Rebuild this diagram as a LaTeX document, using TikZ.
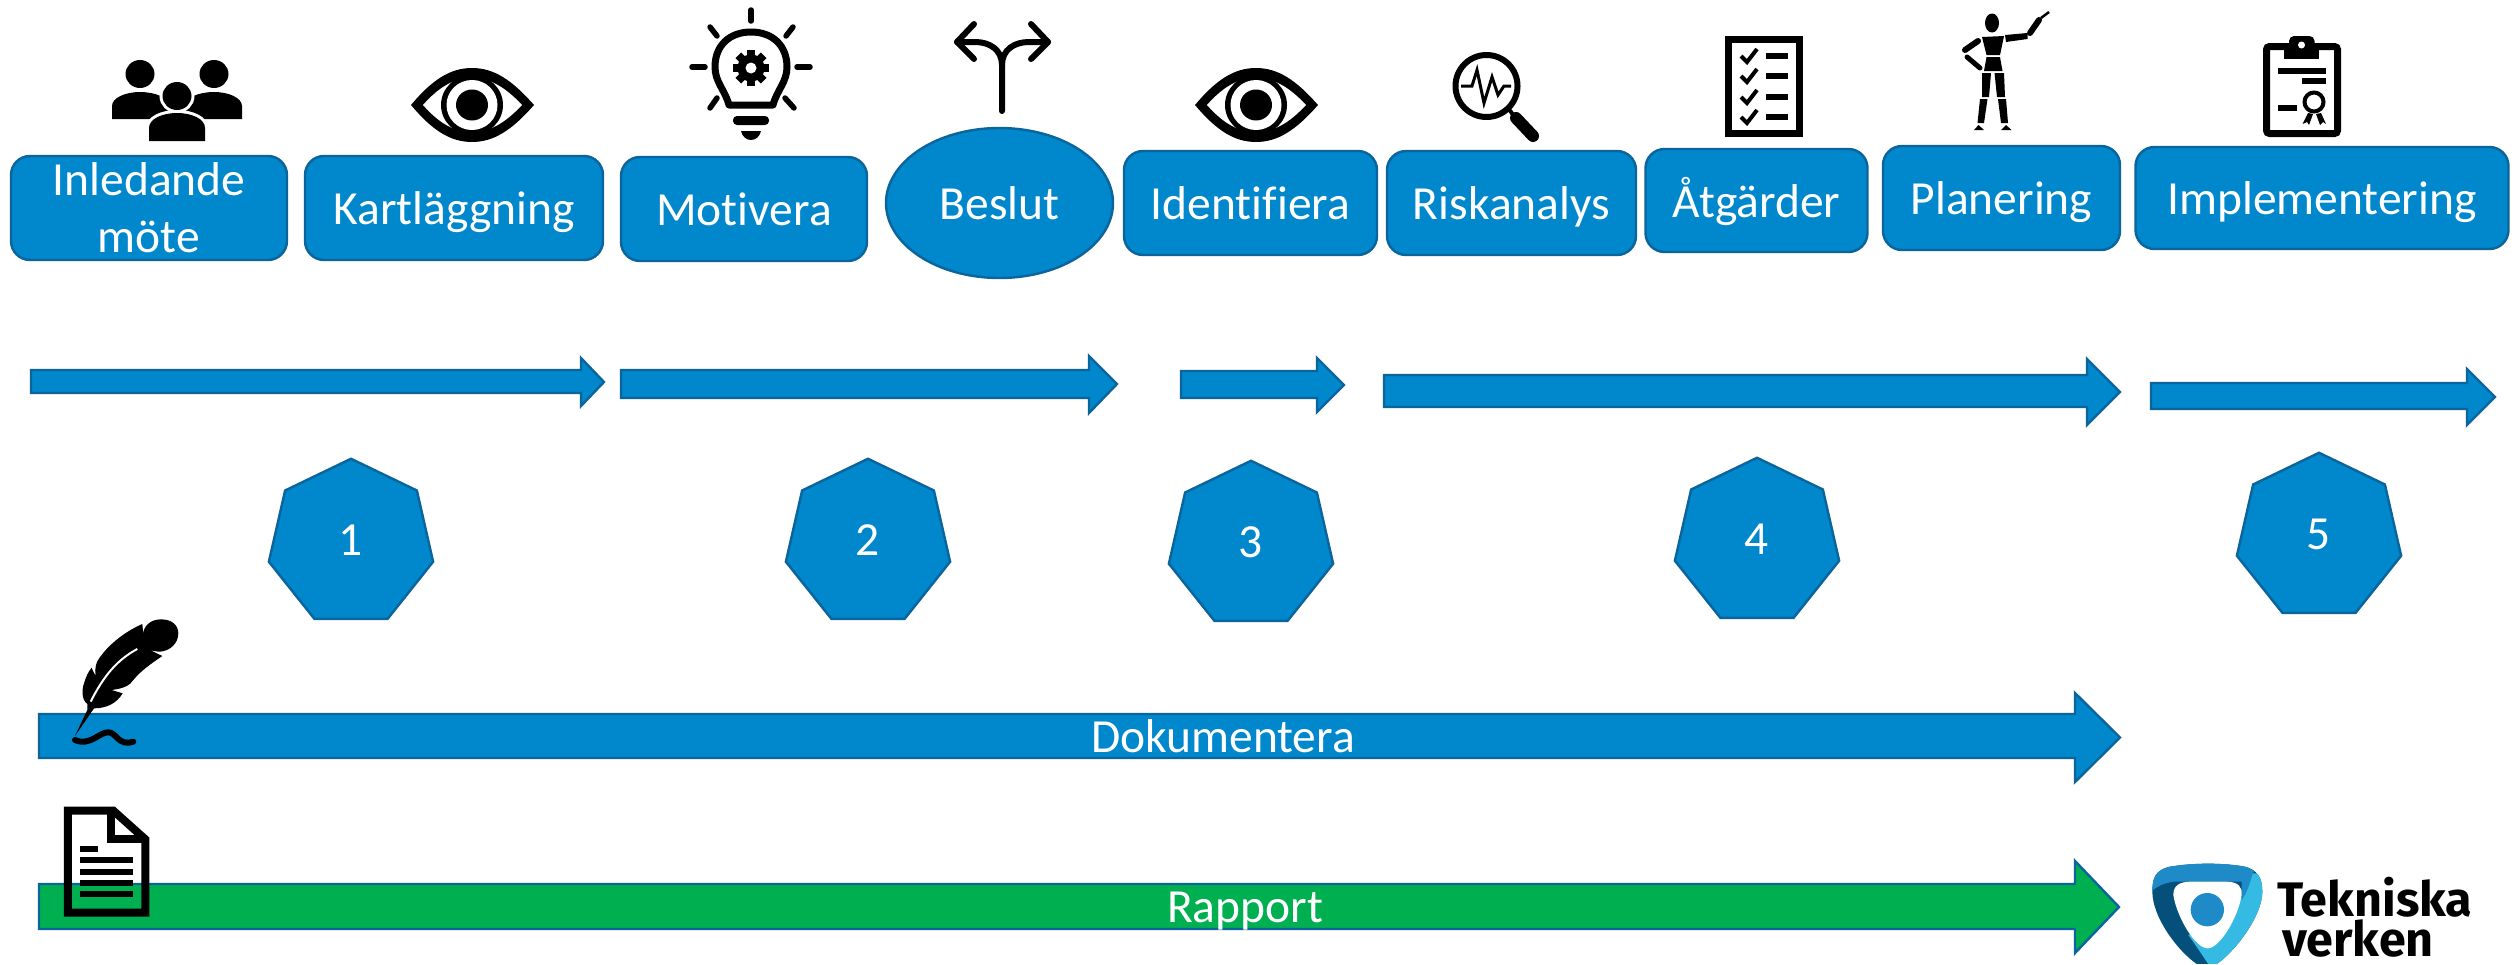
\documentclass[tikz,border=0pt]{standalone}
\usepackage{fontspec}
\setmainfont{Carlito}[Ligatures=CommonOff]
\newfontfamily\logofont{Fira Sans}
\usetikzlibrary{shapes.geometric}
\definecolor{tvblue}{HTML}{0087CC}
\definecolor{tvedge}{HTML}{0B649B}
\definecolor{tvgreen}{HTML}{00B050}
\definecolor{logotop}{HTML}{1E8AC8}
\definecolor{logodark}{HTML}{04507A}
\definecolor{logocyan}{HTML}{35BBE3}
\tikzset{
  x=1pt,y=-1pt,
  shapebase/.style={fill=tvblue,draw=tvedge,line width=2.4pt,text=white,inner sep=0pt,outer sep=0pt,
    font=\fontsize{47.5}{57}\selectfont,align=center},
  flowbox/.style={shapebase,rectangle,rounded corners=19pt,text height=38pt,text depth=5pt},
  emptybox/.style={shapebase,rectangle,rounded corners=19pt},
  decisionshape/.style={shapebase,ellipse,text height=38pt,text depth=5pt},
  heptagon/.style={shapebase,regular polygon,regular polygon sides=7,minimum size=168.5pt,text height=24pt,text depth=0pt},
  blockarrow/.style={fill=tvblue,draw=tvedge,line width=2.4pt,line join=miter},
  greenarrow/.style={blockarrow,fill=tvgreen},
  barlabel/.style={text=white,inner sep=0pt,font=\fontsize{47.5}{57}\selectfont,align=center},
  iconline/.style={draw=black,line width=7pt,line cap=round,line join=round},
  logotext/.style={anchor=base west,inner sep=0pt,text=black,font=\logofont\bfseries\fontsize{48.5}{48}\selectfont},
  eyepic/.pic={
    \fill[black] (-61,0) .. controls (-40,-25) and (-22,-37) .. (0,-37) .. controls (22,-37) and (40,-25) .. (62,0)
       .. controls (40,25) and (22,37) .. (0,37) .. controls (-22,37) and (-40,25) .. (-61,0) -- cycle;
    \fill[white] (-49,0) .. controls (-33,-18) and (-18,-27) .. (0,-27) .. controls (18,-27) and (33,-18) .. (50,0)
       .. controls (33,18) and (18,27) .. (0,27) .. controls (-18,27) and (-33,18) .. (-49,0) -- cycle;
    \fill[black] (0,0) circle[x radius=31,y radius=30];
    \fill[white] (0,0) circle[x radius=25.5,y radius=25];
    \fill[black] (0,0) circle[x radius=16,y radius=15.5];
  },
}
\begin{document}
\begin{tikzpicture}
\useasboundingbox (0,0) rectangle (2516,964);
% process boxes
\node[emptybox,minimum width=276pt,minimum height=104pt] (inledande) at (149,208) {};
\node[barlabel] (inledandetext) at (149,208) {Inledande\\möte};
\node[flowbox,minimum width=298pt,minimum height=104pt] (kart) at (454,208) {Kartläggning};
\node[flowbox,minimum width=246pt,minimum height=104pt] (motivera) at (744,209) {Motivera};
\node[decisionshape,minimum width=227pt,minimum height=150pt] (beslut) at (999.5,203) {Beslut};
\node[flowbox,minimum width=253pt,minimum height=104pt] (identifiera) at (1250.5,203) {Identifiera};
\node[flowbox,minimum width=249pt,minimum height=104pt] (riskanalys) at (1511.5,203) {Riskanalys};
\node[flowbox,minimum width=222pt,minimum height=103pt] (atgarder) at (1756.5,200.5) {Åtgärder};
\node[flowbox,minimum width=237pt,minimum height=104pt] (planering) at (2001.5,198) {Planering};
\node[flowbox,minimum width=373pt,minimum height=102pt] (implementering) at (2322,198) {Implementering};
% phase arrows
\draw[blockarrow] (31,370) -- (581,370) -- (581,358) -- (604,382) -- (581,406) -- (581,393) -- (31,393) -- cycle;
\draw[blockarrow] (621,370) -- (1089,370) -- (1089,356) -- (1117,384) -- (1089,413) -- (1089,398) -- (621,398) -- cycle;
\draw[blockarrow] (1181,371) -- (1317,371) -- (1317,358) -- (1344,385) -- (1317,412) -- (1317,398) -- (1181,398) -- cycle;
\draw[blockarrow] (1384,375) -- (2087,375) -- (2087,359) -- (2120,392) -- (2087,425) -- (2087,407) -- (1384,407) -- cycle;
\draw[blockarrow] (2151,383) -- (2467,383) -- (2467,369) -- (2495,397) -- (2467,425) -- (2467,409) -- (2151,409) -- cycle;
% heptagons
\node[heptagon] (h1) at (351,543) {1};
\node[heptagon] (h2) at (868,543) {2};
\node[heptagon] (h3) at (1251,545) {3};
\node[heptagon] (h4) at (1757,542) {4};
\node[heptagon] (h5) at (2319,537) {5};
% long arrows
\draw[blockarrow] (39,714) -- (2075,714) -- (2075,693) -- (2120,737.5) -- (2075,782) -- (2075,758) -- (39,758) -- cycle;
\node[barlabel] (dok) at (1223,736) {Dokumentera};
\draw[greenarrow] (39,884) -- (2075,884) -- (2075,861) -- (2119,907) -- (2075,953) -- (2075,929) -- (39,929) -- cycle;
\node[barlabel] (rapport) at (1245,911) {Rapport};
% people icon
\fill[black] (112,119) -- (112,106) .. controls (112,98) and (125,92) .. (140,92) .. controls (155,92) and (170,98) .. (170,106) -- (170,119) -- cycle;
\fill[black] (184,119) -- (184,106) .. controls (184,98) and (199,92) .. (214,92) .. controls (229,92) and (242,98) .. (242,106) -- (242,119) -- cycle;
\fill[black] (140,74) circle[x radius=14.5,y radius=14];
\fill[black] (214,74) circle[x radius=14.5,y radius=14];
\fill[black,preaction={draw=white,line width=6pt}] (177,96) circle[x radius=14.5,y radius=14];
\fill[black,preaction={draw=white,line width=6pt}] (149,141) -- (149,128) .. controls (149,119) and (162,113) .. (177,113) .. controls (192,113) and (205,119) .. (205,128) -- (205,141) -- cycle;
% eyes
\pic at (472,105) {eyepic};
\pic at (1256,105) {eyepic};
% bulb
\draw[iconline] (729,105) .. controls (725,90) and (715,82) .. (715,67) .. controls (715,45) and (730,32) .. (751,32) .. controls (772,32) and (787,45) .. (787,67) .. controls (787,82) and (777,90) .. (773,105) -- cycle;
\draw[iconline,line width=5.5pt] (751,10) -- (751,21);
\draw[iconline,line width=5.5pt] (692,67) -- (705,67);
\draw[iconline,line width=5.5pt] (797,67) -- (810,67);
\draw[iconline,line width=5.5pt] (710,27) -- (717,36);
\draw[iconline,line width=5.5pt] (793,27) -- (786,36);
\draw[iconline,line width=5.5pt] (717,98) -- (710,108);
\draw[iconline,line width=5.5pt] (785,98) -- (794,108);
\fill[black] (751,68) circle[radius=13.5];
\foreach \a in {0,45,...,315}{\fill[black,shift={(751,68)},rotate=\a] (-4,-18) rectangle (4,-10);}
\fill[white] (751,68) circle[radius=5.5];
\fill[black,rounded corners=4pt] (733,116) rectangle (769,125);
\fill[black] (741,131) -- (761,131) .. controls (760,136) and (756,140) .. (751,140) .. controls (746,140) and (742,136) .. (741,131) -- cycle;
% split arrow
\draw[iconline,line width=6pt] (1002,111) -- (1002,65) .. controls (1002,50) and (990,42) .. (975,42) -- (957,42);
\draw[iconline,line width=6pt] (1002,65) .. controls (1002,50) and (1014,42) .. (1029,42) -- (1048,42);
\draw[iconline,line width=6pt] (974,24) -- (957,42) -- (974,59);
\draw[iconline,line width=6pt] (1031,24) -- (1048,42) -- (1031,59);
% magnifier
\draw[black,line width=6pt] (1486.5,86) circle[radius=31];
\draw[black,line width=4pt] (1508,108) -- (1514,116);
\draw[black,line width=12pt,line cap=round] (1516,118) -- (1533,136);
\draw[black,line width=3pt,line join=miter] (1461,86) -- (1472,86) -- (1477,70) -- (1484,103) -- (1492,77) -- (1498,95) -- (1504,86) -- (1511,86);
% checklist
\draw[black,line width=6.5pt] (1728.5,39.5) rectangle (1799.5,133.5);
\foreach \yy in {56,76,97,117}{
  \draw[black,line width=4pt] (1741,\yy) -- (1747,\yy+6) -- (1757,\yy-7);
  \fill[black] (1766,\yy-3) rectangle (1788,\yy+3);
}
% mannequin
\fill[black] (1992,23) circle[x radius=7,y radius=9.5];
\fill[black] (1982,37) -- (2004,36) -- (2000,55) -- (1986.5,55) -- cycle;
\fill[black] (1986.5,57) -- (2000,57) -- (2002.5,71) -- (1984,71) -- cycle;
\fill[black] (2005,35) -- (2027.5,33) -- (2027.5,39) -- (2006,42) -- cycle;
\draw[black,line width=6pt,line cap=round] (2030,33) -- (2039,20);
\draw[black,line width=2.5pt] (2041,18) -- (2049,12);
\draw[black,line width=6pt,line cap=round] (1978,41) -- (1965,50);
\draw[black,line width=5pt,line cap=round] (1967,57) -- (1980,68);
\fill[black] (1982,73) -- (1991,73) -- (1989,97) -- (1982,97) -- cycle;
\fill[black] (1994.5,73) -- (2004,73) -- (2005,97) -- (1997,97) -- cycle;
\fill[black] (1980,99) -- (1987.5,99) -- (1984,123) -- (1977.5,123) -- cycle;
\fill[black] (1998,99) -- (2006,99) -- (2008,123) -- (2001,123) -- cycle;
\fill[black] (1978.5,125) -- (1974,130) -- (1984,130) -- cycle;
\fill[black] (2006,125) -- (2001,130) -- (2011.5,130) -- cycle;
% clipboard
\draw[black,line width=7pt,rounded corners=3pt] (2266.5,46.5) rectangle (2337.5,133.5);
\fill[black] (2284,46) rectangle (2319,59);
\fill[black,rounded corners=5pt] (2289,36) rectangle (2314.5,50);
\fill[white] (2301.5,45) circle[radius=3.5];
\fill[black] (2278,68) rectangle (2326,74);
\fill[black] (2302,78) rectangle (2326,84);
\fill[black] (2278,105) rectangle (2297,111);
\draw[black,line width=4pt] (2314,102) circle[radius=9.5];
\fill[black] (2308,113) -- (2302.5,124) -- (2307,122) -- (2309,125) -- (2313,114) -- cycle;
\fill[black] (2316,114) -- (2320,125) -- (2323,122) -- (2326,124) -- (2321,113) -- cycle;
% feather
\begin{scope}[shift={(0,600)},x=0.3333pt,y=-0.3333pt]
\fill[black] (225,408) -- (262,330) -- (262,312) .. controls (245,300) and (245,270) .. (252,250) .. controls (258,230) and (265,215) .. (275,203) .. controls (280,215) and (283,222) .. (288,228) .. controls (282,205) and (288,185) .. (305,165) .. controls (335,125) and (385,90) .. (427,72) -- (430,102) .. controls (430,80) and (450,58) .. (483,58) .. controls (515,58) and (535,75) .. (535,100) .. controls (535,130) and (510,153) .. (480,155) .. controls (470,155) and (458,152) .. (450,150) -- (487,168) .. controls (455,190) and (425,210) .. (400,240) .. controls (390,255) and (375,265) .. (335,270) -- (368,280) .. controls (350,310) and (320,325) .. (282,325) -- cycle;
\draw[white,line width=2pt] (272,305) .. controls (310,230) and (350,180) .. (412,147);
\draw[black,line width=6pt,line cap=round] (225,420) .. controls (270,440) and (300,395) .. (325,397) .. controls (350,397) and (355,440) .. (400,425);
\end{scope}
% document
\begin{scope}[shift={(0,600)},x=0.3333pt,y=-0.3333pt]
\draw[black,line width=8pt,line join=miter] (204,632) -- (340,632) -- (436,718) -- (436,938) -- (204,938) -- cycle;
\draw[black,line width=8pt,line join=miter] (332,632) -- (332,718) -- (436,718);
\fill[black] (240,738) rectangle (294,756);
\fill[black] (240,771) rectangle (399,789);
\fill[black] (240,807) rectangle (399,825);
\fill[black] (240,840) rectangle (399,858);
\fill[black] (240,873) rectangle (399,891);
\end{scope}
% logo
\begin{scope}[shift={(2060,820)},x=0.3333pt,y=-0.3333pt]
\begin{scope}
\clip (277,215) .. controls (277,175) and (285,150) .. (330,140) .. controls (400,128) and (490,128) .. (555,140) .. controls (590,150) and (607,170) .. (607,215) .. controls (607,290) and (520,400) .. (470,432) -- (410,432) .. controls (350,390) and (277,290) .. (277,215) -- cycle;
\fill[logodark] (260,100) rectangle (630,440);
\fill[logocyan] (578,160) -- (620,160) -- (620,440) -- (450,440) .. controls (430,410) and (410,380) .. (385,345) -- (500,300) -- (545,230) -- cycle;
\fill[logotop] (270,100) -- (620,100) -- (578,160) .. controls (570,190) and (560,220) .. (545,240) -- (545,185) -- (340,185) .. controls (310,190) and (290,200) .. (277,212) -- (270,212) -- cycle;
\end{scope}
\fill[white] (340,225) .. controls (340,195) and (360,186) .. (390,185) -- (500,185) .. controls (535,186) and (547,200) .. (545,225) .. controls (535,290) and (480,385) .. (443,385) .. controls (405,385) and (350,290) .. (340,225) -- cycle;
\fill[logotop] (442,269) circle[radius=50];
\end{scope}
\node[logotext] (tek) at (2277,916) {Tekniska};
\node[logotext] (ver) at (2282,956) {verken};
\end{tikzpicture}
\end{document}
